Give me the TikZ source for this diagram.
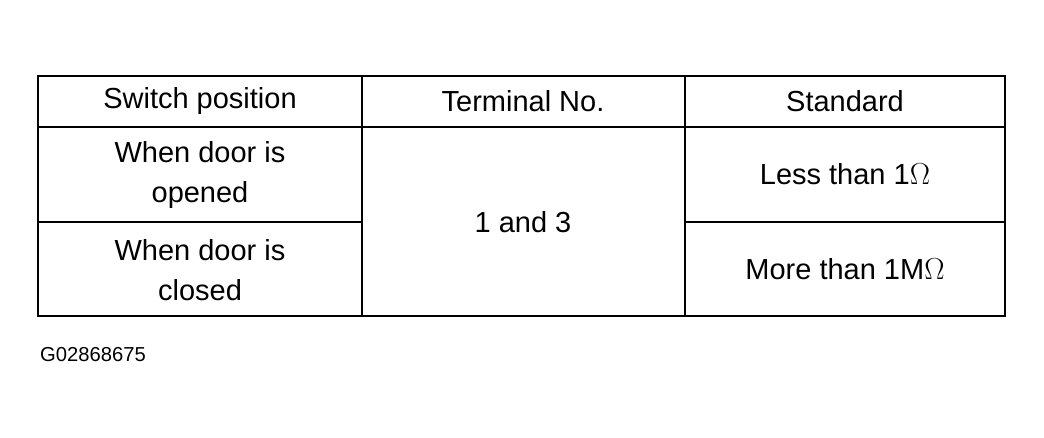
\documentclass[tikz,border=0pt]{standalone}
\usepackage{fontspec}
\setmainfont{Liberation Sans}
\begin{document}
\begin{tikzpicture}[x=0.02cm, y=-0.02cm,
  cell/.style={font=\fontsize{16.5}{22.5}\selectfont, align=center},
  rule/.style={line width=1.2pt}]
\useasboundingbox (0,0) rectangle (1044,438);
% frame and rules
\draw[rule] (38,76) rectangle (1005,316);
\draw[rule] (38,127) -- (1005,127);
\draw[rule] (362,76) -- (362,316);
\draw[rule] (685,76) -- (685,316);
\draw[rule] (38,222) -- (362,222);
\draw[rule] (685,222) -- (1005,222);
% header
\node[cell] (hpos) at (200,101) {Switch position};
\node[cell] (hterm) at (523,101) {Terminal No.};
\node[cell] (hstd) at (845,101) {Standard};
% body
\node[cell] (open) at (200,175) {When door is\\opened};
\node[cell] (closed) at (200,270) {When door is\\closed};
\node[cell] (term) at (523,222) {1 and 3};
\node[cell] (less) at (845,174) {Less than 1$\Omega$};
\node[cell] (more) at (845,269) {More than 1M$\Omega$};
\node[font=\fontsize{11.5}{14}\selectfont, anchor=west] (code) at (34,355) {G02868675};
\end{tikzpicture}
\end{document}
